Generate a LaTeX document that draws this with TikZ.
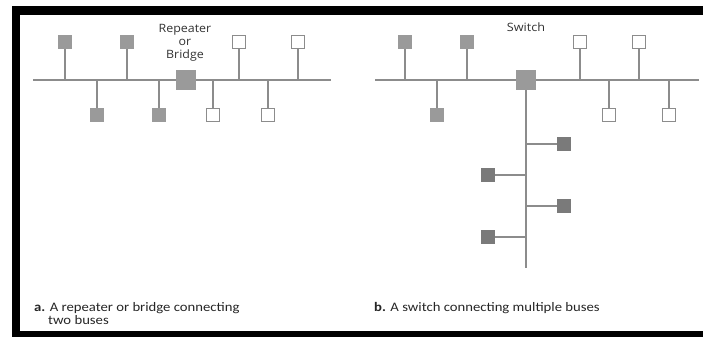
\documentclass[tikz,border=0pt]{standalone}
\usepackage{fontspec}
\setmainfont{Open Sans}
\newfontfamily\capfont{Carlito}
\definecolor{busgray}{HTML}{8C8C8C}
\definecolor{lightfill}{HTML}{9A9A9A}
\definecolor{darkfill}{HTML}{7A7A7A}
\begin{document}
\begin{tikzpicture}[x=1pt,y=-1pt,
  bus/.style={draw=busgray,line width=2pt},
  grayst/.style={draw=none,fill=lightfill,minimum size=14pt,inner sep=0pt},
  whitest/.style={draw=busgray,fill=white,line width=1.3pt,minimum size=13pt,inner sep=0pt},
  darkst/.style={draw=none,fill=darkfill,minimum size=14pt,inner sep=0pt},
  hub/.style={draw=none,fill=lightfill,minimum size=20pt,inner sep=0pt},
  lbl/.style={font=\fontsize{11.5}{12.8}\selectfont,text=black!80,align=center,inner sep=0pt},
  captext/.style={font=\capfont\fontsize{13}{14}\selectfont,text=black!85,anchor=base west,inner sep=0pt}]
\useasboundingbox (0,0) rectangle (703,337);
\fill[white] (0,0) rectangle (703,337);
% frame
\fill[black] (12,6) rectangle (703,15);
\fill[black] (12,6) rectangle (20,337);
\fill[black] (12,331) rectangle (703,337);
% ---- part a ----
\coordinate (aL) at (33,80);
\coordinate (aR) at (331,80);
\node[hub] (rep) at (186,80) {};
\draw[bus] (aL) -- (rep.west);
\draw[bus] (rep.east) -- (aR);
\node[lbl] (replbl) at (185,43) {\scalebox{1.08}[1]{Repeater}\\\scalebox{1.08}[1]{or}\\\scalebox{1.08}[1]{Bridge}};
\node[grayst] (a1) at (65,42) {};
\node[grayst] (a2) at (127,42) {};
\node[whitest] (a3) at (239,42) {};
\node[whitest] (a4) at (298,42) {};
\node[grayst] (a5) at (97,115) {};
\node[grayst] (a6) at (159,115) {};
\node[whitest] (a7) at (213,115) {};
\node[whitest] (a8) at (268,115) {};
\foreach \n in {a1,a2,a3,a4}{\draw[bus] (\n.south) -- (\n.south |- aL);}
\foreach \n in {a5,a6,a7,a8}{\draw[bus] (\n.north) -- (\n.north |- aL);}
% ---- part b ----
\coordinate (bL) at (375,80);
\coordinate (bR) at (699,80);
\node[hub] (sw) at (526,80) {};
\draw[bus] (bL) -- (sw.west);
\draw[bus] (sw.east) -- (bR);
\node[lbl,anchor=base] (swlbl) at (526,32) {\scalebox{1.1}[1]{Switch}};
\node[grayst] (b1) at (405,42) {};
\node[grayst] (b2) at (467,42) {};
\node[whitest] (b3) at (580,42) {};
\node[whitest] (b4) at (639,42) {};
\node[grayst] (b5) at (437,115) {};
\node[whitest] (b6) at (609,115) {};
\node[whitest] (b7) at (669,115) {};
\foreach \n in {b1,b2,b3,b4}{\draw[bus] (\n.south) -- (\n.south |- bL);}
\foreach \n in {b5,b6,b7}{\draw[bus] (\n.north) -- (\n.north |- bL);}
\coordinate (vEnd) at (526,268);
\draw[bus] (sw.south) -- (vEnd);
\node[darkst] (c1) at (564,144) {};
\node[darkst] (c2) at (488,175) {};
\node[darkst] (c3) at (564,206) {};
\node[darkst] (c4) at (488,237) {};
\draw[bus] (c1.west) -- (c1.west -| vEnd);
\draw[bus] (c2.east) -- (c2.east -| vEnd);
\draw[bus] (c3.west) -- (c3.west -| vEnd);
\draw[bus] (c4.east) -- (c4.east -| vEnd);
% captions
\node[captext] (capa) at (34,311) {\scalebox{1.13}[1]{\textbf{a.} A repeater or bridge connecting}};
\node[captext] (capa2) at (48,324) {\scalebox{1.13}[1]{two buses}};
\node[captext] (capb) at (374,311) {\scalebox{1.13}[1]{\textbf{b.} A switch connecting multiple buses}};
\end{tikzpicture}
\end{document}
